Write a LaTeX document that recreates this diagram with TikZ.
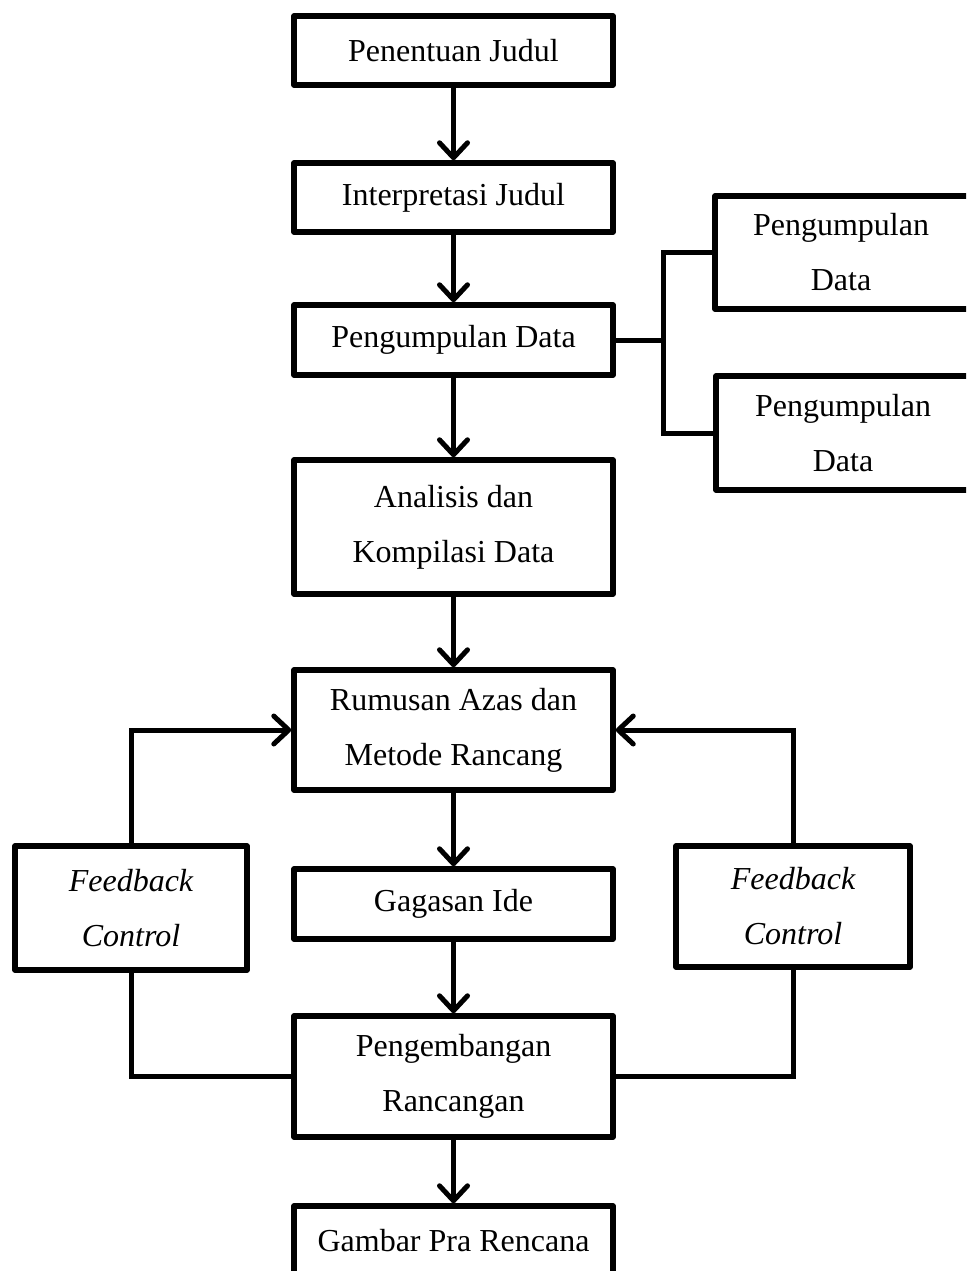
\documentclass[tikz,border=0pt]{standalone}
\usepackage{fontspec}
\setmainfont{Liberation Serif}
\usetikzlibrary{arrows.meta}
\begin{document}
\begin{tikzpicture}[x=1pt,y=-1pt,
  box/.style={draw, line width=5.5pt, line join=round, inner sep=0pt, align=center,
    font=\fontsize{32}{55}\selectfont},
  openbox/.style={box, draw=none, outer sep=0pt},
  edge/.style={line width=5.5pt, line join=round},
  conn/.style={line width=5pt},
  arr/.style={conn, -{Straight Barb[length=15pt,width=28pt,round]}}]
\useasboundingbox (0,0) rectangle (966,1271);
\clip (0,0) rectangle (966,1271);
% main column
\node[box, minimum width=319pt, minimum height=69pt] (b1) at (453.5,50.5) {Penentuan Judul};
\node[box, minimum width=319pt, minimum height=69pt] (b2) at (453.5,197.5) {Interpretasi Judul};
\node[box, minimum width=319pt, minimum height=70pt] (b3) at (453.5,340) {Pengumpulan Data};
\node[box, minimum width=319pt, minimum height=134pt] (b4) at (453.5,527) {Analisis dan\\Kompilasi Data};
\node[box, minimum width=319pt, minimum height=120pt] (b5) at (453.5,730) {Rumusan Azas dan\\Metode Rancang};
\node[box, minimum width=319pt, minimum height=70pt] (b6) at (453.5,904) {Gagasan Ide};
\node[box, minimum width=319pt, minimum height=121pt] (b7) at (453.5,1076.5) {Pengembangan\\Rancangan};
\node[box, minimum width=319pt, minimum height=70pt] (b8) at (453.5,1241) {Gambar Pra Rencana};
% side boxes (cut by the right edge)
\node[openbox, minimum width=252pt, minimum height=113pt] (sa) at (841,252.5) {Pengumpulan\\Data};
\node[openbox, minimum width=254pt, minimum height=114pt] (sb) at (843,433) {Pengumpulan\\Data};
\draw[edge] ([xshift=40pt]sa.north east) -- (sa.north west) -- (sa.south west) -- ([xshift=40pt]sa.south east);
\draw[edge] ([xshift=40pt]sb.north east) -- (sb.north west) -- (sb.south west) -- ([xshift=40pt]sb.south east);
\node[box, minimum width=232pt, minimum height=124pt] (fl) at (131,908) {\itshape Feedback\\\itshape Control};
\node[box, minimum width=234pt, minimum height=121pt] (fr) at (793,906.5) {\itshape Feedback\\\itshape Control};
% arrows
\draw[arr] (b1.south) -- (b2.north);
\draw[arr] (b2.south) -- (b3.north);
\draw[arr] (b3.south) -- (b4.north);
\draw[arr] (b4.south) -- (b5.north);
\draw[arr] (b5.south) -- (b6.north);
\draw[arr] (b6.south) -- (b7.north);
\draw[arr] (b7.south) -- (b8.north);
% bracket
\coordinate (br) at (663,340);
\draw[conn] (b3.east) -- (br);
\draw[conn] (sa.west) -- (sa.west -| br) -- (sb.west -| br) -- (sb.west);
% feedback loops
\draw[arr] (fl.north) |- (b5.west);
\draw[conn] (fl.south) |- (b7.west);
\draw[arr] (fr.north) |- (b5.east);
\draw[conn] (fr.south) |- (b7.east);
\end{tikzpicture}
\end{document}
